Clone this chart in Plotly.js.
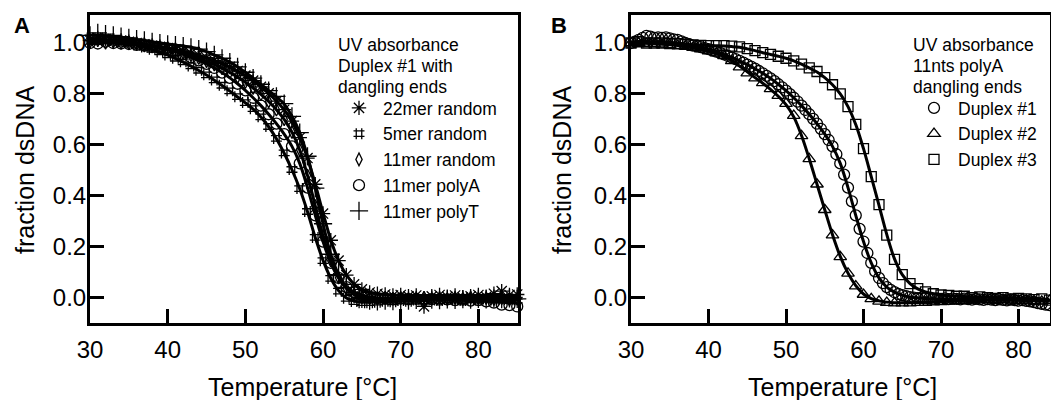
<!DOCTYPE html>
<html><head><meta charset="utf-8">
<script src="https://cdn.plot.ly/plotly-3.0.1.min.js"></script>
<style>html,body{margin:0;padding:0;background:#fff;}#chart{width:1051px;height:400px;}</style>
</head><body><div id="chart"></div>
<script>
// Temperatures (°C), 1 degree steps
const temps = [30,31,32,33,34,35,36,37,38,39,40,41,42,43,44,45,46,47,48,49,50,51,52,53,54,55,56,57,58,59,60,61,62,63,64,65,66,67,68,69,70,71,72,73,74,75,76,77,78,79,80,81,82,83,84,85];
// Temperatures for the Duplex #1 series in panel B (0.5 degree steps)
const tempsHalf = [30,30.5,31,31.5,32,32.5,33,33.5,34,34.5,35,35.5,36,36.5,37,37.5,38,38.5,39,39.5,40,40.5,41,41.5,42,42.5,43,43.5,44,44.5,45,45.5,46,46.5,47,47.5,48,48.5,49,49.5,50,50.5,51,51.5,52,52.5,53,53.5,54,54.5,55,55.5,56,56.5,57,57.5,58,58.5,59,59.5,60,60.5,61,61.5,62,62.5,63,63.5,64,64.5,65,65.5,66,66.5,67,67.5,68,68.5,69,69.5,70,70.5,71,71.5,72,72.5,73,73.5,74,74.5,75,75.5,76,76.5,77,77.5,78,78.5,79,79.5,80,80.5,81,81.5,82,82.5,83,83.5,84,84.5,85];

// Panel A – Duplex #1 with dangling ends (measured points)
const a22merRandom = [1.01,1.02,1.015,1.01,1.01,1.005,1.0,0.995,0.99,0.985,0.98,0.975,0.968,0.96,0.952,0.942,0.932,0.92,0.906,0.89,0.872,0.852,0.828,0.802,0.772,0.738,0.693,0.628,0.548,0.445,0.33,0.225,0.145,0.088,0.052,0.032,0.02,0.015,0.012,0.008,0.01,0.005,0.008,-0.035,0.005,0.01,0.003,0.008,0.0,0.005,0.01,0.003,0.015,0.025,0.01,0.012];
const a5merRandom = [1.02,1.02,1.015,1.01,1.005,1.0,0.992,0.984,0.975,0.965,0.953,0.94,0.926,0.91,0.893,0.875,0.855,0.834,0.812,0.789,0.766,0.742,0.71,0.672,0.625,0.568,0.503,0.428,0.338,0.236,0.145,0.075,0.025,-0.003,-0.016,-0.02,-0.02,-0.018,-0.015,-0.017,-0.012,-0.015,-0.01,-0.013,-0.01,-0.012,-0.008,-0.01,-0.012,-0.008,-0.01,-0.006,-0.01,-0.008,-0.005,-0.01];
const a11merRandom = [1.005,1.01,1.0,1.005,1.0,0.998,0.995,0.99,0.986,0.981,0.975,0.968,0.96,0.951,0.94,0.928,0.915,0.9,0.884,0.866,0.846,0.823,0.798,0.77,0.738,0.7,0.65,0.58,0.48,0.36,0.24,0.145,0.078,0.035,0.012,0.002,-0.003,-0.005,0.0,-0.005,-0.002,-0.006,-0.003,0.0,-0.005,-0.002,-0.006,-0.002,-0.005,0.0,-0.004,-0.002,-0.006,-0.003,-0.008,-0.005];
const a11merPolyA = [1.0,0.998,1.005,1.0,0.998,0.996,0.993,0.99,0.985,0.98,0.973,0.965,0.955,0.944,0.932,0.918,0.902,0.884,0.863,0.84,0.814,0.785,0.754,0.72,0.683,0.642,0.594,0.527,0.432,0.323,0.22,0.136,0.077,0.041,0.021,0.009,0.002,-0.002,-0.003,-0.005,-0.004,-0.006,-0.005,-0.008,-0.006,-0.008,-0.007,-0.01,-0.008,-0.012,-0.01,-0.015,-0.02,-0.028,-0.03,-0.035];
const a11merPolyT = [1.03,1.04,1.035,1.03,1.025,1.02,1.015,1.01,1.005,1.0,0.995,0.992,0.988,0.983,0.976,0.966,0.953,0.94,0.925,0.906,0.885,0.862,0.838,0.813,0.79,0.762,0.712,0.648,0.555,0.43,0.29,0.17,0.09,0.04,0.012,-0.005,-0.012,-0.015,-0.012,-0.014,-0.01,-0.012,-0.009,-0.011,-0.008,-0.01,-0.007,-0.009,-0.006,-0.008,-0.005,-0.007,-0.004,-0.006,-0.003,-0.005];

// Panel A – fitted curves
const fitA22 = [1.012,1.012,1.01,1.008,1.005,1.002,0.999,0.995,0.99,0.985,0.98,0.974,0.967,0.959,0.951,0.941,0.931,0.919,0.905,0.889,0.871,0.851,0.828,0.802,0.772,0.737,0.692,0.628,0.548,0.445,0.332,0.226,0.145,0.089,0.053,0.032,0.021,0.015,0.012,0.01,0.009,0.009,0.008,0.008,0.008,0.008,0.008,0.008,0.008,0.008,0.008,0.008,0.008,0.008,0.008,0.008];
const fitA5 = [1.018,1.016,1.013,1.009,1.004,0.998,0.991,0.983,0.974,0.964,0.952,0.939,0.925,0.909,0.892,0.874,0.854,0.833,0.811,0.788,0.765,0.74,0.709,0.671,0.624,0.567,0.502,0.427,0.337,0.236,0.146,0.076,0.027,-0.002,-0.014,-0.018,-0.018,-0.017,-0.016,-0.015,-0.014,-0.013,-0.012,-0.012,-0.011,-0.011,-0.01,-0.01,-0.01,-0.009,-0.009,-0.009,-0.009,-0.008,-0.008,-0.008];
const fitA11R = [1.004,1.004,1.003,1.002,1.0,0.998,0.995,0.991,0.986,0.981,0.975,0.968,0.96,0.951,0.94,0.928,0.915,0.9,0.884,0.866,0.846,0.823,0.798,0.77,0.738,0.7,0.65,0.58,0.48,0.36,0.242,0.146,0.079,0.036,0.013,0.003,-0.002,-0.003,-0.004,-0.004,-0.004,-0.004,-0.004,-0.004,-0.004,-0.004,-0.004,-0.004,-0.004,-0.004,-0.004,-0.004,-0.004,-0.004,-0.004,-0.004];
const fitA11A = [1.0,1.0,1.0,0.999,0.998,0.996,0.993,0.99,0.985,0.98,0.973,0.965,0.955,0.944,0.932,0.918,0.902,0.884,0.863,0.84,0.814,0.785,0.754,0.72,0.683,0.642,0.594,0.527,0.432,0.323,0.22,0.136,0.077,0.041,0.021,0.009,0.002,-0.002,-0.004,-0.005,-0.006,-0.007,-0.008,-0.008,-0.009,-0.009,-0.01,-0.01,-0.011,-0.012,-0.013,-0.014,-0.016,-0.018,-0.02,-0.022];
const fitA11T = [1.03,1.03,1.028,1.025,1.022,1.018,1.014,1.01,1.005,1.0,0.996,0.992,0.988,0.983,0.976,0.966,0.953,0.94,0.925,0.906,0.885,0.862,0.838,0.813,0.788,0.76,0.712,0.648,0.555,0.43,0.29,0.17,0.09,0.04,0.012,-0.004,-0.011,-0.012,-0.012,-0.011,-0.01,-0.01,-0.009,-0.009,-0.008,-0.008,-0.007,-0.007,-0.006,-0.006,-0.006,-0.005,-0.005,-0.005,-0.005,-0.005];

// Panel B – 11nts polyA dangling ends (measured points)
const bDuplex1 = [1.0,1.005,1.012,1.02,1.028,1.025,1.02,1.022,1.02,1.022,1.018,1.014,1.012,1.006,1.0,0.995,0.99,0.988,0.984,0.98,0.976,0.971,0.966,0.961,0.955,0.949,0.943,0.937,0.93,0.923,0.915,0.907,0.899,0.89,0.881,0.871,0.861,0.85,0.838,0.826,0.813,0.799,0.785,0.77,0.754,0.737,0.72,0.702,0.683,0.663,0.642,0.619,0.594,0.563,0.527,0.483,0.432,0.378,0.323,0.27,0.22,0.175,0.136,0.103,0.077,0.057,0.041,0.03,0.021,0.014,0.009,0.005,0.002,0.0,-0.002,0.0,-0.003,-0.002,-0.004,-0.003,-0.005,-0.003,-0.006,-0.004,-0.005,-0.007,-0.004,-0.006,-0.008,-0.005,-0.007,-0.009,-0.006,-0.008,-0.01,-0.007,-0.009,-0.011,-0.008,-0.01,-0.012,-0.01,-0.013,-0.015,-0.018,-0.022,-0.025,-0.028,-0.03,-0.032,-0.03];
const bDuplex2 = [1.0,1.0,0.998,0.997,0.995,0.993,0.99,0.987,0.982,0.976,0.968,0.96,0.95,0.93,0.905,0.882,0.862,0.843,0.82,0.793,0.762,0.715,0.635,0.545,0.445,0.345,0.245,0.16,0.095,0.045,0.012,-0.005,-0.015,-0.02,-0.022,-0.022,-0.022,-0.02,-0.02,-0.018,-0.017,-0.015,-0.013,-0.012,-0.01,-0.01,-0.008,-0.01,-0.008,-0.01,-0.012,-0.01,-0.013,-0.015,-0.012,-0.015];
const bDuplex3 = [1.0,1.005,1.0,1.0,1.0,0.998,0.997,0.995,0.993,0.991,0.99,0.99,0.99,0.988,0.985,0.978,0.97,0.962,0.955,0.948,0.94,0.93,0.917,0.902,0.888,0.864,0.836,0.8,0.75,0.68,0.585,0.475,0.365,0.245,0.15,0.09,0.055,0.035,0.022,0.015,0.01,0.008,0.005,0.005,0.0,0.003,0.0,-0.003,0.0,-0.005,-0.003,-0.005,-0.008,-0.005,-0.01,-0.01];

// Panel B – fitted curves
const fitB1 = [1.005,1.006,1.006,1.005,1.004,1.002,1.0,0.996,0.99,0.984,0.976,0.966,0.955,0.943,0.93,0.915,0.899,0.881,0.861,0.838,0.813,0.785,0.754,0.72,0.683,0.642,0.594,0.527,0.432,0.323,0.22,0.136,0.077,0.041,0.021,0.009,0.002,-0.002,-0.004,-0.005,-0.006,-0.006,-0.007,-0.007,-0.008,-0.008,-0.009,-0.009,-0.01,-0.01,-0.011,-0.012,-0.013,-0.014,-0.015,-0.016];
const fitB2 = [1.0,1.0,0.999,0.997,0.995,0.993,0.99,0.986,0.981,0.975,0.967,0.958,0.947,0.931,0.91,0.887,0.864,0.842,0.818,0.791,0.758,0.71,0.637,0.545,0.445,0.345,0.247,0.162,0.096,0.047,0.014,-0.004,-0.013,-0.018,-0.02,-0.02,-0.02,-0.019,-0.018,-0.017,-0.016,-0.015,-0.014,-0.013,-0.012,-0.012,-0.011,-0.011,-0.011,-0.011,-0.011,-0.012,-0.012,-0.012,-0.012,-0.013];
const fitB3 = [1.0,1.0,1.0,1.0,0.999,0.998,0.997,0.995,0.993,0.992,0.99,0.989,0.988,0.986,0.983,0.977,0.97,0.962,0.955,0.948,0.94,0.93,0.917,0.902,0.886,0.864,0.836,0.8,0.75,0.68,0.585,0.475,0.362,0.248,0.152,0.09,0.055,0.034,0.022,0.015,0.01,0.007,0.005,0.004,0.003,0.002,0.001,0.0,-0.001,-0.002,-0.003,-0.004,-0.005,-0.006,-0.007,-0.008];

const legendA = ['22mer random','5mer random','11mer random','11mer polyA','11mer polyT'];
const legendB = ['Duplex #1','Duplex #2','Duplex #3'];
const legendTitleA = ['UV absorbance','Duplex #1 with','dangling ends'];
const legendTitleB = ['UV absorbance','11nts polyA','dangling ends'];
const tickValsX = [30,40,50,60,70,80];
const tickValsY = [0,0.2,0.4,0.6,0.8,1.0];

const FONT = 'Liberation Sans, Arial, Helvetica, sans-serif';
const W = 1051, H = 400;

function pts(x, y, name, symbol, size, xa, ya, legend) {
  return {x: x, y: y, name: name, type: 'scatter', mode: 'markers', xaxis: xa, yaxis: ya, legend: legend,
    cliponaxis: false,
    marker: {symbol: symbol, size: size, color: '#000', line: {color: '#000', width: 1.3}}};
}
function fit(x, y, xa, ya) {
  return {x: x, y: y, type: 'scatter', mode: 'lines', xaxis: xa, yaxis: ya, showlegend: false, hoverinfo: 'skip',
    line: {color: '#000', width: 3, shape: 'spline', smoothing: 1}};
}

const data = [
  pts(temps, a22merRandom, legendA[0], 'asterisk-open', 12, 'x', 'y', 'legend'),
  pts(temps, a5merRandom, legendA[1], 'hash-open', 11, 'x', 'y', 'legend'),
  pts(temps, a11merRandom, legendA[2], 'diamond-tall-open', 9, 'x', 'y', 'legend'),
  pts(temps, a11merPolyA, legendA[3], 'circle-open', 11, 'x', 'y', 'legend'),
  pts(temps, a11merPolyT, legendA[4], 'cross-thin-open', 13, 'x', 'y', 'legend'),
  fit(temps, fitA22, 'x', 'y'),
  fit(temps, fitA5, 'x', 'y'),
  fit(temps, fitA11R, 'x', 'y'),
  fit(temps, fitA11A, 'x', 'y'),
  fit(temps, fitA11T, 'x', 'y'),
  pts(tempsHalf, bDuplex1, legendB[0], 'circle-open', 11, 'x2', 'y2', 'legend2'),
  pts(temps, bDuplex2, legendB[1], 'triangle-up-open', 11, 'x2', 'y2', 'legend2'),
  pts(temps, bDuplex3, legendB[2], 'square-open', 10, 'x2', 'y2', 'legend2'),
  fit(temps, fitB1, 'x2', 'y2'),
  fit(temps, fitB2, 'x2', 'y2'),
  fit(temps, fitB3, 'x2', 'y2')
];

function xAxis(domain, range, anchor) {
  return {domain: domain, range: range, anchor: anchor, tickvals: tickValsX, ticks: 'inside', ticklen: 14, tickwidth: 3,
    tickcolor: '#000', showline: true, linewidth: 3, linecolor: '#000', mirror: true, showgrid: false, zeroline: false,
    tickfont: {family: FONT, size: 24, color: '#000'}, ticklabelstandoff: 3};
}
function yAxis(domain, anchor) {
  return {domain: domain, range: [-0.1, 1.11], anchor: anchor, tickvals: tickValsY, tickformat: '.1f', ticks: 'inside', ticklen: 14, tickwidth: 3,
    tickcolor: '#000', showline: true, linewidth: 3, linecolor: '#000', mirror: true, showgrid: false, zeroline: false,
    tickfont: {family: FONT, size: 24, color: '#000'}, ticklabelstandoff: -4};
}
const yDom = [1 - 323 / H, 1 - 15 / H];

function legendCfg(xpx) {
  return {x: xpx / W, y: 1 - 90 / H, xanchor: 'left', yanchor: 'top', bgcolor: 'rgba(0,0,0,0)', borderwidth: 0,
    font: {family: FONT, size: 17.5, color: '#000'}, itemwidth: 38, tracegroupgap: 0};
}

const ann = (text, xpx, ypx, size, extra) => Object.assign({text: text, xref: 'paper', yref: 'paper', x: xpx / W, y: 1 - ypx / H,
  xanchor: 'center', yanchor: 'middle', showarrow: false, font: {family: FONT, size: size, color: '#000'}}, extra || {});

const titleRows = [45, 66, 87];
const legendTitleAnns = [];
titleRows.forEach((ypx, i) => {
  legendTitleAnns.push(ann(legendTitleA[i], 336, ypx, 17.5, {xanchor: 'left'}));
  legendTitleAnns.push(ann(legendTitleB[i], 911, ypx, 17.5, {xanchor: 'left'}));
});

const layout = {
  width: W, height: H, margin: {l: 0, r: 0, t: 0, b: 0, autoexpand: false}, paper_bgcolor: '#fff', plot_bgcolor: '#fff',
  font: {family: FONT, color: '#000'},
  xaxis: xAxis([90 / W, 518 / W], [30, 85.1], 'y'),
  yaxis: yAxis(yDom, 'x'),
  xaxis2: xAxis([631 / W, 1049.5 / W], [30, 84], 'y2'),
  yaxis2: yAxis(yDom, 'x2'),
  legend: legendCfg(335),
  legend2: legendCfg(910),
  annotations: [
    ann('<b>A</b>', 22, 25, 22),
    ann('<b>B</b>', 559, 25, 22),
    ann('fraction dsDNA', 25, 170, 25, {textangle: -90}),
    ann('fraction dsDNA', 562, 170, 25, {textangle: -90}),
    ann('Temperature [°C]', 302, 387, 25),
    ann('Temperature [°C]', 842, 387, 25)
  ].concat(legendTitleAnns)
};

Plotly.newPlot('chart', data, layout, {staticPlot: true, displayModeBar: false});
</script>
</body></html>
